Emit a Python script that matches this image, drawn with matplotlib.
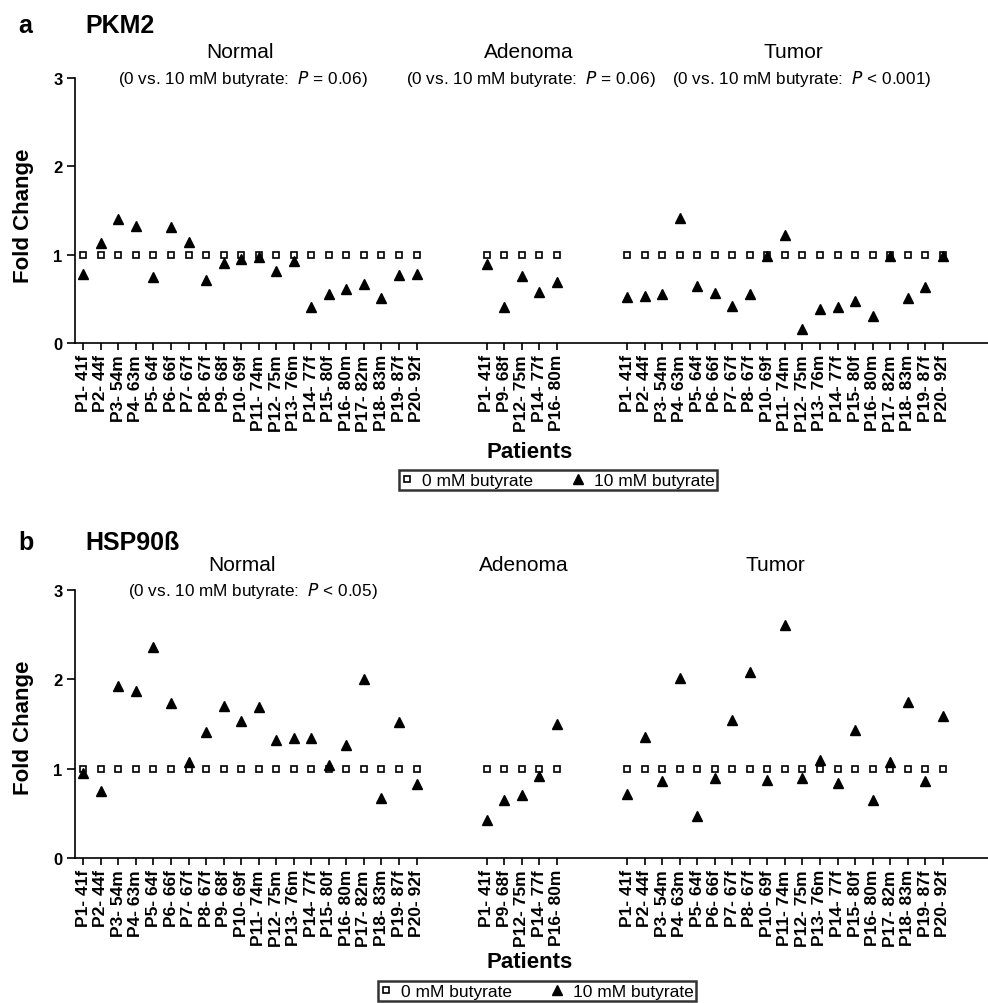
import matplotlib
matplotlib.use('Agg')
import matplotlib.pyplot as plt
import numpy as np

plt.rcParams['font.family'] = ['Liberation Sans', 'DejaVu Sans']

# ---------------- data ----------------
normal_labels = ['P1- 41f', 'P2- 44f', 'P3- 54m', 'P4- 63m', 'P5- 64f', 'P6- 66f',
                 'P7- 67f', 'P8- 67f', 'P9- 68f', 'P10- 69f', 'P11- 74m', 'P12- 75m',
                 'P13- 76m', 'P14- 77f', 'P15- 80f', 'P16- 80m', 'P17- 82m', 'P18- 83m',
                 'P19- 87f', 'P20- 92f']
adenoma_labels = ['P1- 41f', 'P9- 68f', 'P12- 75m', 'P14- 77f', 'P16- 80m']
tumor_labels = ['P1- 41f', 'P2- 44f', 'P3- 54m', 'P4- 63m', 'P5- 64f', 'P6- 66f',
                'P7- 67f', 'P8- 67f', 'P10- 69f', 'P11- 74m', 'P12- 75m', 'P13- 76m',
                'P14- 77f', 'P15- 80f', 'P16- 80m', 'P17- 82m', 'P18- 83m', 'P19- 87f',
                'P20- 92f']

# PKM2, 10 mM butyrate (fold change vs 0 mM = 1)
pkm2_normal = [0.78, 1.13, 1.40, 1.33, 0.75, 1.31, 1.14, 0.71, 0.91, 0.95,
               0.97, 0.81, 0.93, 0.41, 0.55, 0.61, 0.67, 0.51, 0.77, 0.78]
pkm2_adenoma = [0.90, 0.41, 0.76, 0.58, 0.69]
pkm2_tumor = [0.52, 0.53, 0.55, 1.42, 0.65, 0.57, 0.42, 0.56, 0.99, 1.22,
              0.16, 0.39, 0.41, 0.48, 0.31, 0.98, 0.51, 0.63, 0.98]

# HSP90beta, 10 mM butyrate
hsp_normal = [0.95, 0.75, 1.93, 1.87, 2.36, 1.73, 1.08, 1.41, 1.70, 1.53,
              1.69, 1.32, 1.34, 1.34, 1.04, 1.26, 2.00, 0.67, 1.52, 0.83]
hsp_adenoma = [0.43, 0.65, 0.71, 0.92, 1.50]
hsp_tumor = [0.72, 1.36, 0.86, 2.02, 0.47, 0.89, 1.54, 2.08, 0.87, 2.61,
             0.89, 1.10, 0.84, 1.43, 0.65, 1.08, 1.75, 0.86, 1.59]

control_value = 1.0
group_names = ['Normal', 'Adenoma', 'Tumor']
pkm2_subtitles = ['(0 vs. 10 mM butyrate:  $\\it{P}$ = 0.06)',
                  '(0 vs. 10 mM butyrate:  $\\it{P}$ = 0.06)',
                  '(0 vs. 10 mM butyrate:  $\\it{P}$ < 0.001)']
hsp_subtitles = ['(0 vs. 10 mM butyrate:  $\\it{P}$ < 0.05)', '', '']
legend_labels = ['0 mM butyrate', '10 mM butyrate']

# ---------------- layout ----------------
W, H = 988, 1004
fig = plt.figure(figsize=(W / 100, H / 100), dpi=100)

step = 17.54          # px between patients
x0px = 83.3           # px of first patient
group_starts = [0, 23, 31]


def fx(px):
    return px / W


def fy(py):
    return 1 - py / H


def add_axes_px(left, top, right, bottom):
    return fig.add_axes([left / W, 1 - bottom / H, (right - left) / W, (bottom - top) / H])


def draw_panel(top, bottom, values, sub, letter, title, head_y, title_y, sub_y,
               group_x, sub_x, fold_y, pat_y, leg_center):
    ax = add_axes_px(75, top, 988, bottom)
    groups_labels = [normal_labels, adenoma_labels, tumor_labels]
    xs_all, labels_all = [], []
    h0 = h1 = None
    for g, (labs, vals) in enumerate(zip(groups_labels, values)):
        xs = group_starts[g] + np.arange(len(labs))
        h0, = ax.plot(xs, [control_value] * len(xs), linestyle='none', marker='s',
                      markersize=4.6, markerfacecolor='white', markeredgecolor='black',
                      markeredgewidth=1.2, zorder=3)
        h1, = ax.plot(xs, vals, linestyle='none', marker='^', markersize=7.5,
                      color='black', zorder=4)
        xs_all.extend(xs)
        labels_all.extend(labs)
    ax.set_xlim((75 - x0px) / step, (988 - x0px) / step)
    ax.set_ylim(0, 3)
    ax.set_yticks([0, 1, 2, 3])
    ax.set_yticklabels(['0', '1', '2', '3'], fontsize=12, fontweight='bold')
    ax.set_xticks(xs_all)
    ax.set_xticklabels(labels_all, rotation=90, fontsize=12.5, fontweight='bold')
    for s in ['top', 'right']:
        ax.spines[s].set_visible(False)
    for s in ['left', 'bottom']:
        ax.spines[s].set_linewidth(1.2)
    ax.tick_params(axis='x', length=5, width=1.2, pad=3)
    ax.tick_params(axis='y', length=6, width=1.2, pad=3)
    ax.patch.set_visible(False)

    fig.text(fx(18), fy(head_y), letter, fontsize=18, fontweight='bold', va='baseline')
    fig.text(fx(85), fy(head_y), title, fontsize=18, fontweight='bold', va='baseline')
    for g in range(3):
        fig.text(fx(group_x[g]), fy(title_y), group_names[g], fontsize=15,
                 ha='center', va='baseline')
        if sub[g]:
            fig.text(fx(sub_x[g]), fy(sub_y), sub[g], fontsize=12.3,
                     ha='center', va='center')
    fig.text(fx(24), fy(fold_y), 'Fold Change', fontsize=16, fontweight='bold',
             rotation=90, ha='center', va='center')
    fig.text(fx(530), fy(pat_y), 'Patients', fontsize=16, fontweight='bold',
             ha='center', va='center')
    leg = fig.legend([h0, h1], legend_labels, loc='center', ncol=2,
                     bbox_to_anchor=(fx(leg_center[0]), fy(leg_center[1])),
                     fontsize=12.5, frameon=True, fancybox=False, handlelength=0.6,
                     handletextpad=0.6, columnspacing=2.3, borderpad=0.15,
                     borderaxespad=0, markerscale=0.9)
    leg.get_frame().set_edgecolor('black')
    leg.get_frame().set_linewidth(1.8)
    return ax


draw_panel(79, 344, [pkm2_normal, pkm2_adenoma, pkm2_tumor], pkm2_subtitles,
           'a', 'PKM2', 33, 58, 79, [240, 529, 793], [243, 531, 802], 216, 453,
           (558, 481))

draw_panel(591, 859, [hsp_normal, hsp_adenoma, hsp_tumor], hsp_subtitles,
           'b', 'HSP90ß', 550, 571, 591, [242, 524, 775], [253, 531, 802], 728, 963,
           (537, 992))

fig.savefig('out.png', dpi=100)
